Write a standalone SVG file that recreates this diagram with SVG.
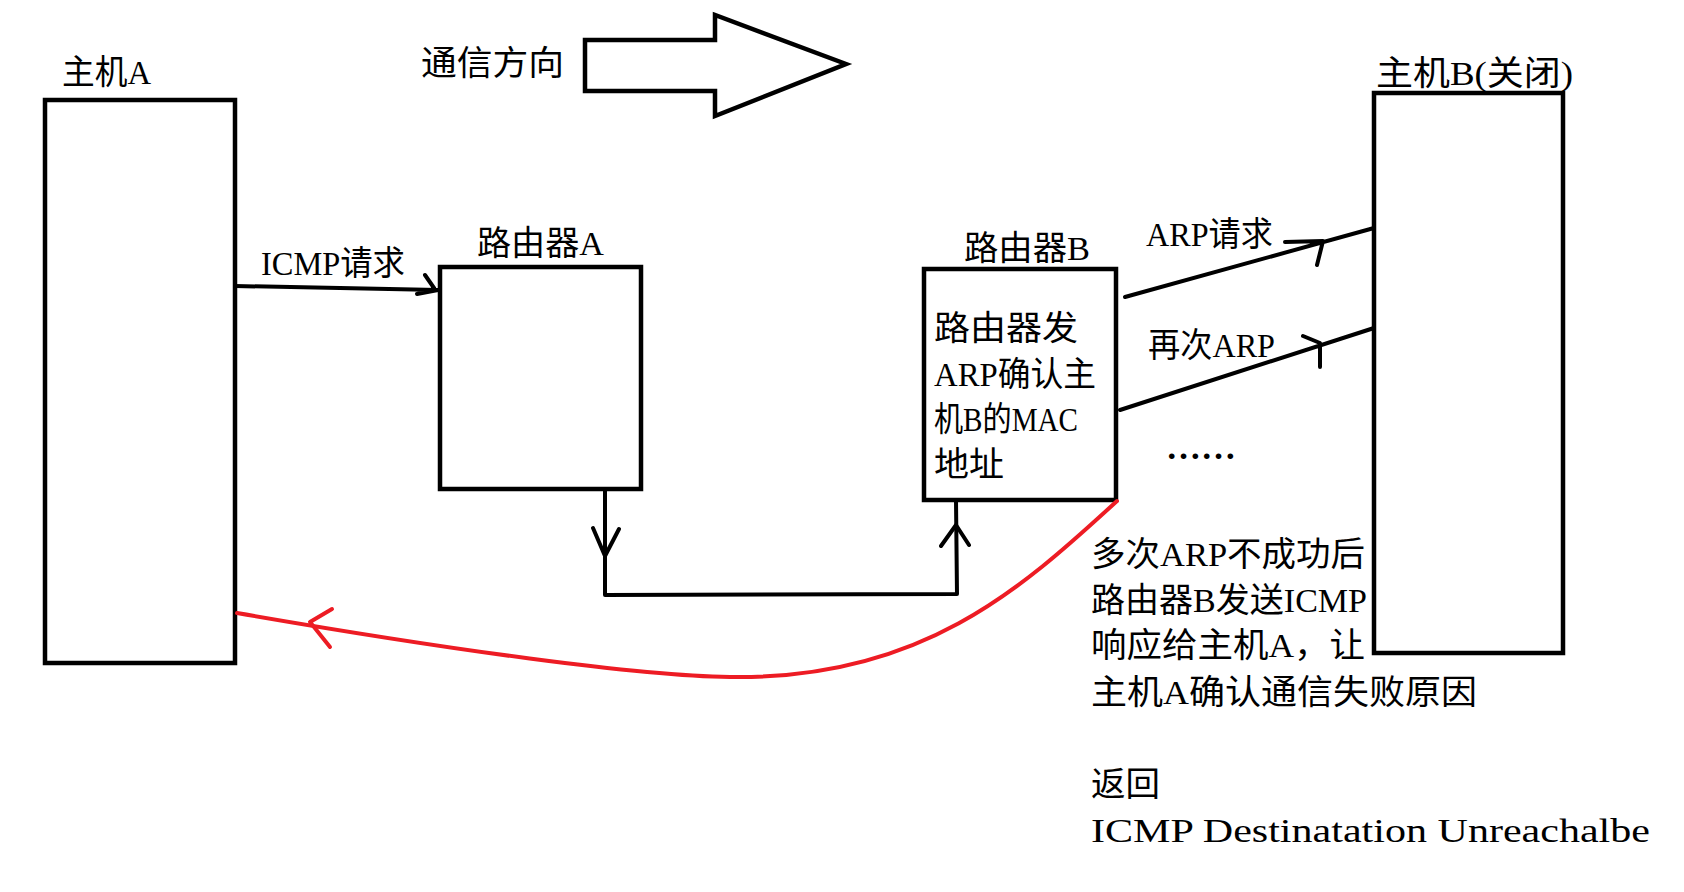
<svg xmlns="http://www.w3.org/2000/svg" width="1684" height="892" viewBox="0 0 1684 892">
<style>
  .box{fill:#fff;stroke:#000;stroke-width:4.5}
  .ln{fill:none;stroke:#000;stroke-width:4;stroke-linecap:round;stroke-linejoin:round}
  .red{fill:none;stroke:#ed1c24;stroke-width:4;stroke-linecap:round;stroke-linejoin:round}
  text{font-family:"Liberation Serif","Noto Sans CJK SC",serif;font-size:34px;fill:#000}
</style>
<rect width="1684" height="892" fill="#fff"/>
<g id="direction">
  <polygon class="box" points="585,40 715,40 715,15 846,64 715,116 715,91 585,91"/>
  <text x="421" y="75" textLength="143" lengthAdjust="spacingAndGlyphs">通信方向</text>
</g>
<g id="hostA">
  <rect class="box" x="45" y="100" width="190" height="563"/>
  <text x="62" y="84" textLength="89" lengthAdjust="spacingAndGlyphs">主机A</text>
</g>
<g id="routerA">
  <rect class="box" x="440" y="267" width="201" height="222"/>
  <text x="477" y="255" textLength="127" lengthAdjust="spacingAndGlyphs">路由器A</text>
</g>
<g id="routerB">
  <rect class="box" x="924" y="269" width="192" height="231"/>
  <text x="964" y="260" textLength="126" lengthAdjust="spacingAndGlyphs">路由器B</text>
  <text x="934" y="340" textLength="144" lengthAdjust="spacingAndGlyphs">路由器发</text>
  <text x="934" y="386" textLength="162" lengthAdjust="spacingAndGlyphs">ARP确认主</text>
  <text x="934" y="431" textLength="144" lengthAdjust="spacingAndGlyphs">机B的MAC</text>
  <text x="934" y="476" textLength="70" lengthAdjust="spacingAndGlyphs">地址</text>
</g>
<g id="hostB">
  <rect class="box" x="1374" y="93" width="189" height="560"/>
  <text x="1376" y="85" textLength="197" lengthAdjust="spacingAndGlyphs">主机B(关闭)</text>
</g>
<g id="connectors">
  <path class="ln" d="M235,286 L438,290 M425,275 L434,288 M417,294 L438,290"/>
  <path class="ln" d="M605,489 L605,595 L957,594 L956,500"/>
  <path class="ln" d="M593,528 L605,556 L619,529 M941,546 L956,525 L969,545"/>
  <path class="ln" d="M1125,297 L1374,228 M1285,242 L1323,241 L1317,265"/>
  <path class="ln" d="M1120,410 L1374,328 M1303,336 L1320,343 L1320,367"/>
  <path class="red" d="M1117,501 C1020,590 920,680 730,677 C640,676 450,650 237,613"/>
  <path class="red" d="M332,609 L310,622 L330,647"/>
</g>
<g id="labels">
  <text x="261" y="275" textLength="144" lengthAdjust="spacingAndGlyphs">ICMP请求</text>
  <text x="1146" y="246" textLength="127" lengthAdjust="spacingAndGlyphs">ARP请求</text>
  <text x="1148" y="357" textLength="127" lengthAdjust="spacingAndGlyphs">再次ARP</text>
  <text x="1166" y="459" textLength="70" lengthAdjust="spacingAndGlyphs" style="font-weight:bold">……</text>
  <text x="1091" y="566" textLength="274" lengthAdjust="spacingAndGlyphs">多次ARP不成功后</text>
  <text x="1091" y="612" textLength="276" lengthAdjust="spacingAndGlyphs">路由器B发送ICMP</text>
  <text x="1091" y="657" textLength="274" lengthAdjust="spacingAndGlyphs">响应给主机A，让</text>
  <text x="1091" y="704" textLength="386" lengthAdjust="spacingAndGlyphs">主机A确认通信失败原因</text>
  <text x="1091" y="796" textLength="69" lengthAdjust="spacingAndGlyphs">返回</text>
  <text x="1091" y="842" textLength="559" lengthAdjust="spacingAndGlyphs">ICMP Destinatation Unreachalbe</text>
</g>
</svg>
